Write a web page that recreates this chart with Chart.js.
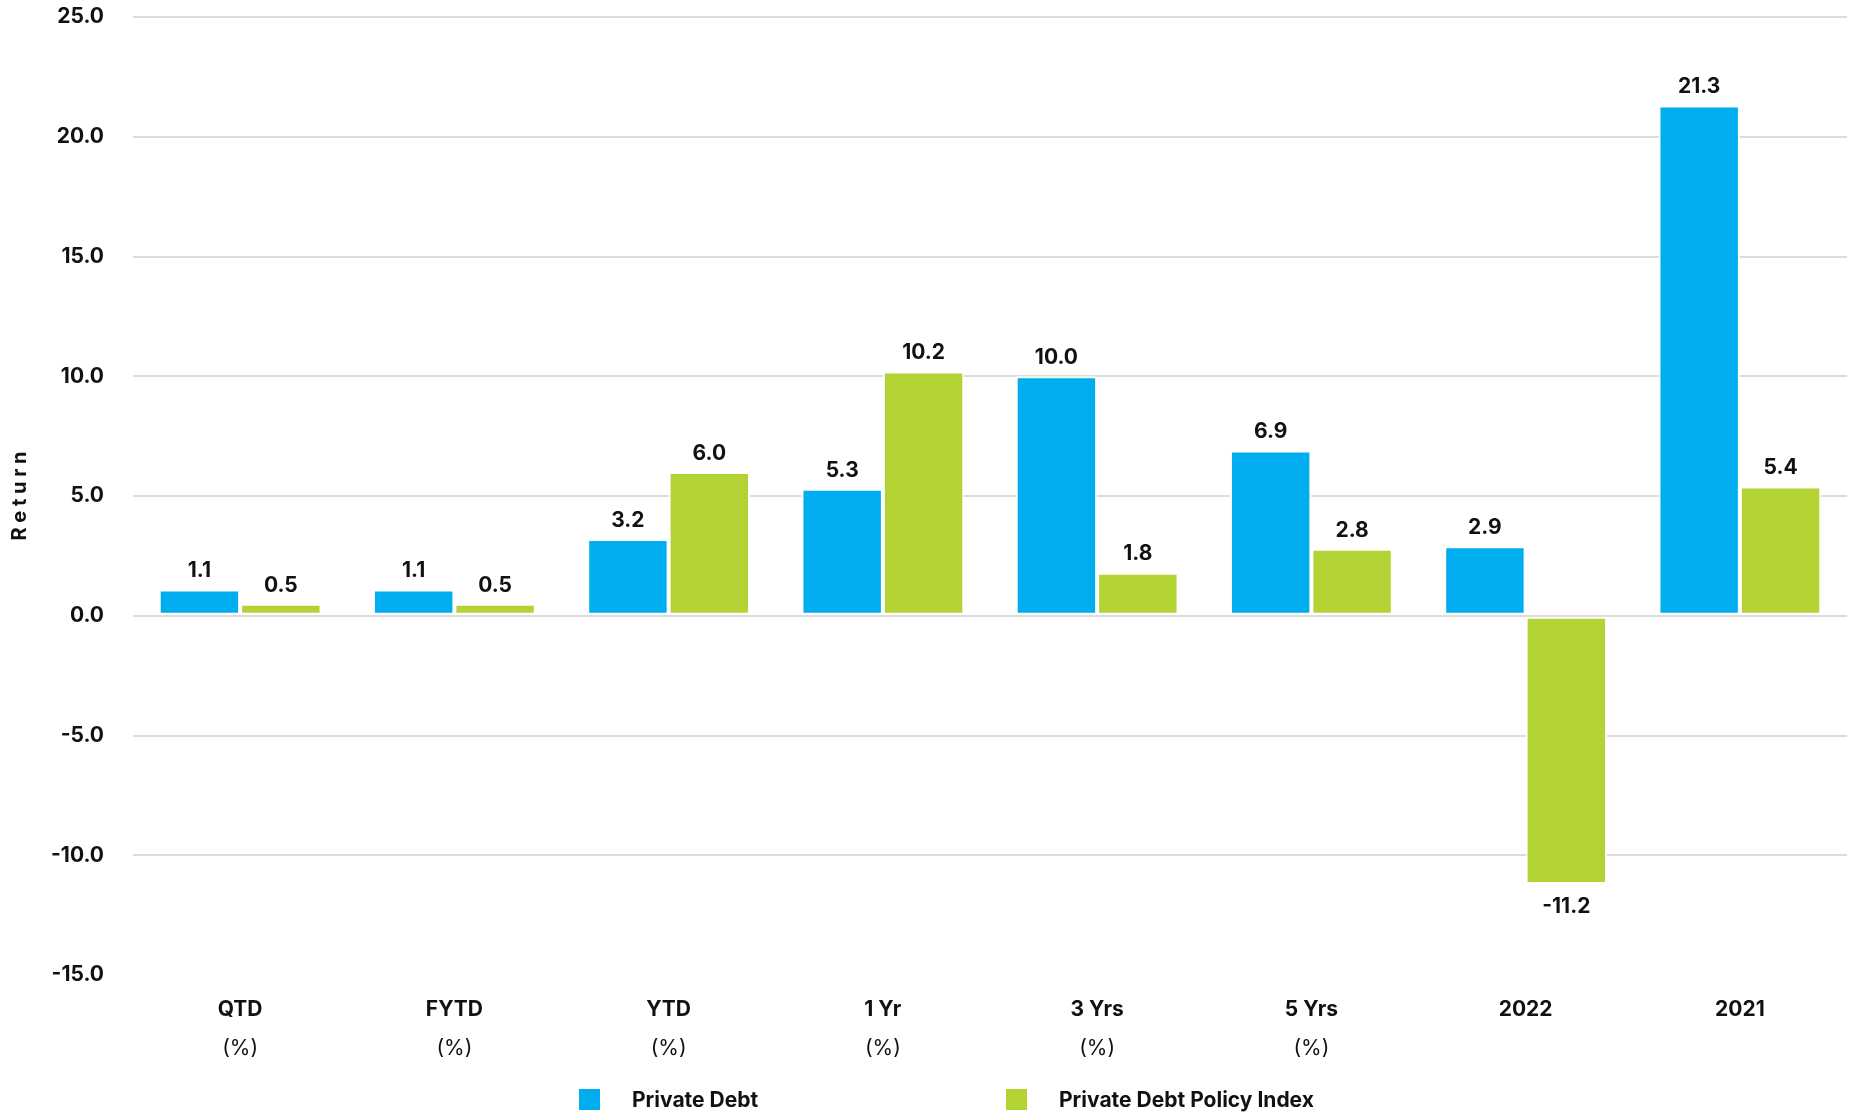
<!DOCTYPE html>
<html>
<head>
<meta charset="utf-8">
<script src="https://cdn.jsdelivr.net/npm/chart.js@4"></script>
<style>
  html, body { margin: 0; padding: 0; background: #fff; }
  #wrap { width: 1860px; height: 1116px; }
</style>
</head>
<body>
<div id="wrap"><canvas id="returns"></canvas></div>
<script>
// Dane wykresu
const categories = ['QTD', 'FYTD', 'YTD', '1 Yr', '3 Yrs', '5 Yrs', '2022', '2021'];
const subLabels = ['(%)', '(%)', '(%)', '(%)', '(%)', '(%)', '', ''];
const privateDebt = [1.1, 1.1, 3.2, 5.3, 10.0, 6.9, 2.9, 21.3];
const policyIndex = [0.5, 0.5, 6.0, 10.2, 1.8, 2.8, -11.2, 5.4];
const seriesNames = ['Private Debt', 'Private Debt Policy Index'];
const seriesColors = ['#00AEEF', '#B3D335'];

const FONT = 'Inter, "Noto Sans", sans-serif';

// Etykiety wartości nad / pod słupkami
const valueLabels = {
    id: 'valueLabels',
    afterDatasetsDraw(chart) {
        const ctx = chart.ctx;
        ctx.save();
        ctx.font = '700 21px ' + FONT;
        ctx.fillStyle = '#111';
        ctx.textAlign = 'center';
        chart.data.datasets.forEach((ds, i) => {
            chart.getDatasetMeta(i).data.forEach((bar, j) => {
                const v = ds.data[j];
                if (v >= 0) {
                    ctx.textBaseline = 'bottom';
                    ctx.fillText(v.toFixed(1), bar.x, bar.y - 8);
                } else {
                    ctx.textBaseline = 'top';
                    ctx.fillText(v.toFixed(1), bar.x, bar.y + 12);
                }
            });
        });
        ctx.restore();
    }
};

// Etykiety osi X (dwie linie, druga zwykłą czcionką) i legenda
const bottomTexts = {
    id: 'bottomTexts',
    afterDraw(chart) {
        const ctx = chart.ctx;
        const x = chart.scales.x;
        ctx.save();
        ctx.fillStyle = '#111';
        ctx.textAlign = 'center';
        ctx.textBaseline = 'middle';
        categories.forEach((c, i) => {
            const px = x.getPixelForValue(i);
            ctx.font = '700 21px ' + FONT;
            ctx.fillText(c, px, 1010);
            if (subLabels[i]) {
                ctx.font = '400 21px ' + FONT;
                ctx.fillText(subLabels[i], px, 1049);
            }
        });

        // legenda
        const items = [{ box: 579, text: 632 }, { box: 1006, text: 1059 }];
        ctx.textAlign = 'left';
        ctx.font = '700 21px ' + FONT;
        items.forEach((it, i) => {
            ctx.fillStyle = seriesColors[i];
            ctx.fillRect(it.box, 1089, 21, 21);
            ctx.fillStyle = '#111';
            ctx.fillText(seriesNames[i], it.text, 1101);
        });
        ctx.restore();
    }
};

const ctx = document.getElementById('returns');

new Chart(ctx, {
    type: 'bar',
    data: {
        labels: categories,
        datasets: [
            {
                label: seriesNames[0],
                data: privateDebt,
                backgroundColor: seriesColors[0],
                borderColor: '#fff',
                borderWidth: 2,
                borderSkipped: false,
                categoryPercentage: 0.76,
                barPercentage: 1.0
            },
            {
                label: seriesNames[1],
                data: policyIndex,
                backgroundColor: seriesColors[1],
                borderColor: '#fff',
                borderWidth: 2,
                borderSkipped: false,
                categoryPercentage: 0.76,
                barPercentage: 1.0
            }
        ]
    },
    options: {
        responsive: true,
        maintainAspectRatio: false,
        animation: false,
        layout: { padding: { top: 17, right: 13, left: 0, bottom: 0 } },
        plugins: {
            legend: { display: false },
            tooltip: { enabled: false }
        },
        scales: {
            x: {
                grid: { display: false },
                border: { display: false },
                ticks: { display: false },
                afterFit: (scale) => {
                    scale.height = 141;
                    scale.paddingTop = 0;
                    scale.paddingBottom = 0;
                }
            },
            y: {
                min: -15,
                max: 25,
                ticks: {
                    stepSize: 5,
                    padding: 29,
                    color: '#111',
                    font: { family: FONT, size: 21, weight: '700' },
                    callback: (v) => v.toFixed(1)
                },
                grid: {
                    drawTicks: false,
                    lineWidth: 2,
                    color: (c) => (c.tick && c.tick.value === -15) ? 'rgba(0,0,0,0)' : '#dcdcdc'
                },
                border: { display: false },
                title: {
                    display: true,
                    text: 'R e t u r n',
                    color: '#111',
                    font: { family: FONT, size: 20, weight: '700' },
                    padding: { top: 8, bottom: 0 }
                },
                afterFit: (scale) => {
                    scale.width = 133;
                    scale.paddingTop = 0;
                    scale.paddingBottom = 0;
                }
            }
        }
    },
    plugins: [valueLabels, bottomTexts]
});
</script>
</body>
</html>
